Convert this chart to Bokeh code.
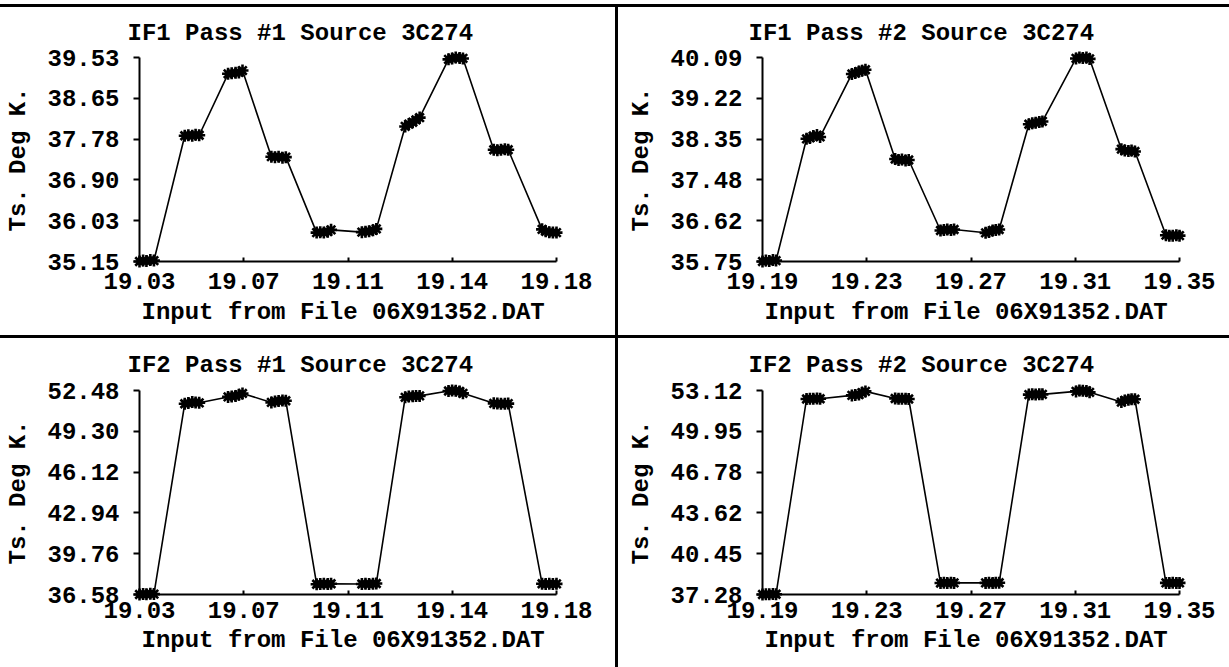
import numpy as np
from bokeh.plotting import figure
from bokeh.models import Range1d, Title, Spacer, FixedTicker
from bokeh.layouts import column, row
from bokeh.embed import file_html
from bokeh.resources import INLINE

FONT = "Liberation Mono"
FS = "24px"

# ---- data (time in hours, Ts in deg K) ----
pass1_time = [19.0300, 19.0313, 19.0325, 19.0339, 19.0352,
              19.0463, 19.0476, 19.0490, 19.0502, 19.0515,
              19.0619, 19.0632, 19.0646, 19.0658, 19.0671,
              19.0775, 19.0788, 19.0801, 19.0815, 19.0827,
              19.0938, 19.0951, 19.0964, 19.0978, 19.0990,
              19.1101, 19.1114, 19.1127, 19.1141, 19.1153,
              19.1257, 19.1270, 19.1284, 19.1296, 19.1309,
              19.1413, 19.1426, 19.1439, 19.1453, 19.1465,
              19.1576, 19.1589, 19.1602, 19.1616, 19.1628,
              19.1750, 19.1763, 19.1776, 19.1789, 19.1802]
pass2_time = [19.1900, 19.1913, 19.1926, 19.1940, 19.1952,
              19.2069, 19.2082, 19.2095, 19.2109, 19.2121,
              19.2243, 19.2256, 19.2270, 19.2282, 19.2295,
              19.2409, 19.2422, 19.2435, 19.2449, 19.2461,
              19.2583, 19.2596, 19.2609, 19.2623, 19.2635,
              19.2756, 19.2769, 19.2783, 19.2795, 19.2808,
              19.2922, 19.2935, 19.2948, 19.2962, 19.2974,
              19.3103, 19.3116, 19.3129, 19.3143, 19.3155,
              19.3277, 19.3290, 19.3304, 19.3316, 19.3329,
              19.3448, 19.3461, 19.3474, 19.3488, 19.3500]

if1_pass1_ts = [35.15, 35.17, 35.16, 35.18, 35.17,
                37.85, 37.86, 37.85, 37.87, 37.86,
                39.18, 39.19, 39.20, 39.21, 39.25,
                37.40, 37.39, 37.40, 37.38, 37.39,
                35.77, 35.78, 35.77, 35.79, 35.83,
                35.78, 35.79, 35.80, 35.82, 35.85,
                38.05, 38.10, 38.14, 38.19, 38.24,
                39.49, 39.51, 39.53, 39.52, 39.51,
                37.55, 37.54, 37.55, 37.56, 37.55,
                35.84, 35.80, 35.78, 35.77, 35.77]
if1_pass2_ts = [35.75, 35.77, 35.76, 35.78, 35.77,
                38.36, 38.38, 38.42, 38.44, 38.40,
                39.74, 39.76, 39.79, 39.81, 39.83,
                37.93, 37.91, 37.92, 37.90, 37.91,
                36.41, 36.42, 36.43, 36.42, 36.43,
                36.36, 36.38, 36.41, 36.42, 36.43,
                38.67, 38.69, 38.70, 38.72, 38.73,
                40.07, 40.09, 40.08, 40.09, 40.06,
                38.14, 38.11, 38.10, 38.11, 38.09,
                36.31, 36.30, 36.30, 36.31, 36.30]
if2_pass1_ts = [36.58, 36.62, 36.60, 36.64, 36.61,
                51.45, 51.50, 51.58, 51.55, 51.52,
                51.98, 52.02, 52.06, 52.14, 52.25,
                51.55, 51.62, 51.66, 51.70, 51.68,
                37.38, 37.40, 37.41, 37.40, 37.42,
                37.40, 37.41, 37.40, 37.42, 37.44,
                51.95, 52.02, 52.04, 52.05, 52.06,
                52.44, 52.48, 52.46, 52.40, 52.26,
                51.48, 51.46, 51.44, 51.45, 51.46,
                37.42, 37.40, 37.41, 37.40, 37.41]
if2_pass2_ts = [37.28, 37.30, 37.29, 37.31, 37.30,
                52.46, 52.48, 52.47, 52.49, 52.48,
                52.74, 52.78, 52.80, 52.95, 53.05,
                52.50, 52.48, 52.47, 52.48, 52.46,
                38.17, 38.19, 38.18, 38.20, 38.18,
                38.18, 38.19, 38.18, 38.20, 38.19,
                52.80, 52.82, 52.81, 52.83, 52.82,
                53.05, 53.12, 53.10, 53.08, 52.98,
                52.22, 52.35, 52.40, 52.45, 52.44,
                38.18, 38.17, 38.19, 38.18, 38.18]

pass1_time_labels = ["19.03", "19.07", "19.11", "19.14", "19.18"]
pass2_time_labels = ["19.19", "19.23", "19.27", "19.31", "19.35"]
if1_pass1_labels = ["35.15", "36.03", "36.90", "37.78", "38.65", "39.53"]
if1_pass2_labels = ["35.75", "36.62", "37.48", "38.35", "39.22", "40.09"]
if2_pass1_labels = ["36.58", "39.76", "42.94", "46.12", "49.30", "52.48"]
if2_pass2_labels = ["37.28", "40.45", "43.62", "46.78", "49.95", "53.12"]

titles = ["IF1 Pass #1 Source 3C274", "IF1 Pass #2 Source 3C274",
          "IF2 Pass #1 Source 3C274", "IF2 Pass #2 Source 3C274"]
x_caption = "Input from File 06X91352.DAT"
y_caption = "Ts. Deg K."


def panel(xs, ys, xlabels, ylabels, title, width, height, left, top,
          title_off, cap_off, title_gap, label_gap, cap_gap):
    x0, x1 = min(xs), max(xs)
    y0, y1 = min(ys), max(ys)
    frame_w, frame_h = 417, 205
    p = figure(width=width, height=height, output_backend="svg", toolbar_location=None,
               x_range=Range1d(x0, x1), y_range=Range1d(y0, y1),
               min_border_left=left, min_border_right=width - left - frame_w,
               min_border_top=top, min_border_bottom=height - top - frame_h,
               background_fill_color="white", border_fill_color="white",
               outline_line_color=None)
    p.xgrid.visible = False
    p.ygrid.visible = False

    p.title.text = title
    p.title.align = "left"
    p.title.offset = title_off
    p.title.text_font = FONT
    p.title.text_font_size = FS
    p.title.text_font_style = "bold"
    p.title.text_color = "black"
    p.title.standoff = title_gap

    xt = [float(v) for v in np.linspace(x0, x1, len(xlabels))]
    yt = [float(v) for v in np.linspace(y0, y1, len(ylabels))]

    xa = p.xaxis[0]
    xa.ticker = FixedTicker(ticks=xt, minor_ticks=[])
    xa.major_label_overrides = dict(zip(xt, xlabels))
    xa.axis_line_width = 2
    xa.axis_line_color = "black"
    xa.major_tick_in = 4
    xa.major_tick_out = 0
    xa.major_tick_line_width = 2
    xa.minor_tick_line_color = None
    xa.major_label_standoff = label_gap
    xa.major_label_text_font = FONT
    xa.major_label_text_font_size = FS
    xa.major_label_text_font_style = "bold"
    xa.major_label_text_color = "black"

    ya = p.yaxis[0]
    ya.ticker = FixedTicker(ticks=yt, minor_ticks=[])
    ya.major_label_overrides = dict(zip(yt, ylabels))
    ya.axis_line_width = 2
    ya.axis_line_color = "black"
    ya.major_tick_in = 0
    ya.major_tick_out = 6
    ya.major_tick_line_width = 2
    ya.minor_tick_line_color = None
    ya.major_label_standoff = 14
    ya.major_label_text_font = FONT
    ya.major_label_text_font_size = FS
    ya.major_label_text_font_style = "bold"
    ya.major_label_text_color = "black"
    ya.axis_label = y_caption
    ya.axis_label_text_font = FONT
    ya.axis_label_text_font_size = FS
    ya.axis_label_text_font_style = "bold"
    ya.axis_label_text_color = "black"
    ya.axis_label_standoff = 12

    cap = Title(text=x_caption, align="left", offset=cap_off, text_font=FONT,
                text_font_size=FS, text_font_style="bold", text_color="black",
                standoff=cap_gap)
    p.add_layout(cap, "below")

    ln = p.line(xs, ys, line_color="black", line_width=1.6)
    sc = p.scatter(xs, ys, marker="asterisk", size=12, line_color="black", line_width=2.6)
    ln.level = "overlay"
    sc.level = "overlay"
    return p


p1 = panel(pass1_time, if1_pass1_ts, pass1_time_labels, if1_pass1_labels, titles[0],
           615, 328, 139, 49, -12, 2, 21, 11, 10)
p2 = panel(pass2_time, if1_pass2_ts, pass2_time_labels, if1_pass2_labels, titles[1],
           611, 328, 144, 49, -14, 2, 21, 11, 10)
p3 = panel(pass1_time, if2_pass1_ts, pass1_time_labels, if2_pass1_labels, titles[2],
           615, 329, 139, 51, -12, 2, 23, 7, 8)
p4 = panel(pass2_time, if2_pass2_ts, pass2_time_labels, if2_pass2_labels, titles[3],
           611, 329, 144, 51, -14, 2, 23, 7, 8)

black = {"background-color": "black"}
layout = column(
    Spacer(width=1229, height=4),
    Spacer(width=1229, height=3, styles=black),
    row(p1, Spacer(width=3, height=328, styles=black), p2),
    Spacer(width=1229, height=3, styles=black),
    row(p3, Spacer(width=3, height=329, styles=black), p4),
)

open("out.html", "w").write(file_html(layout, INLINE))
